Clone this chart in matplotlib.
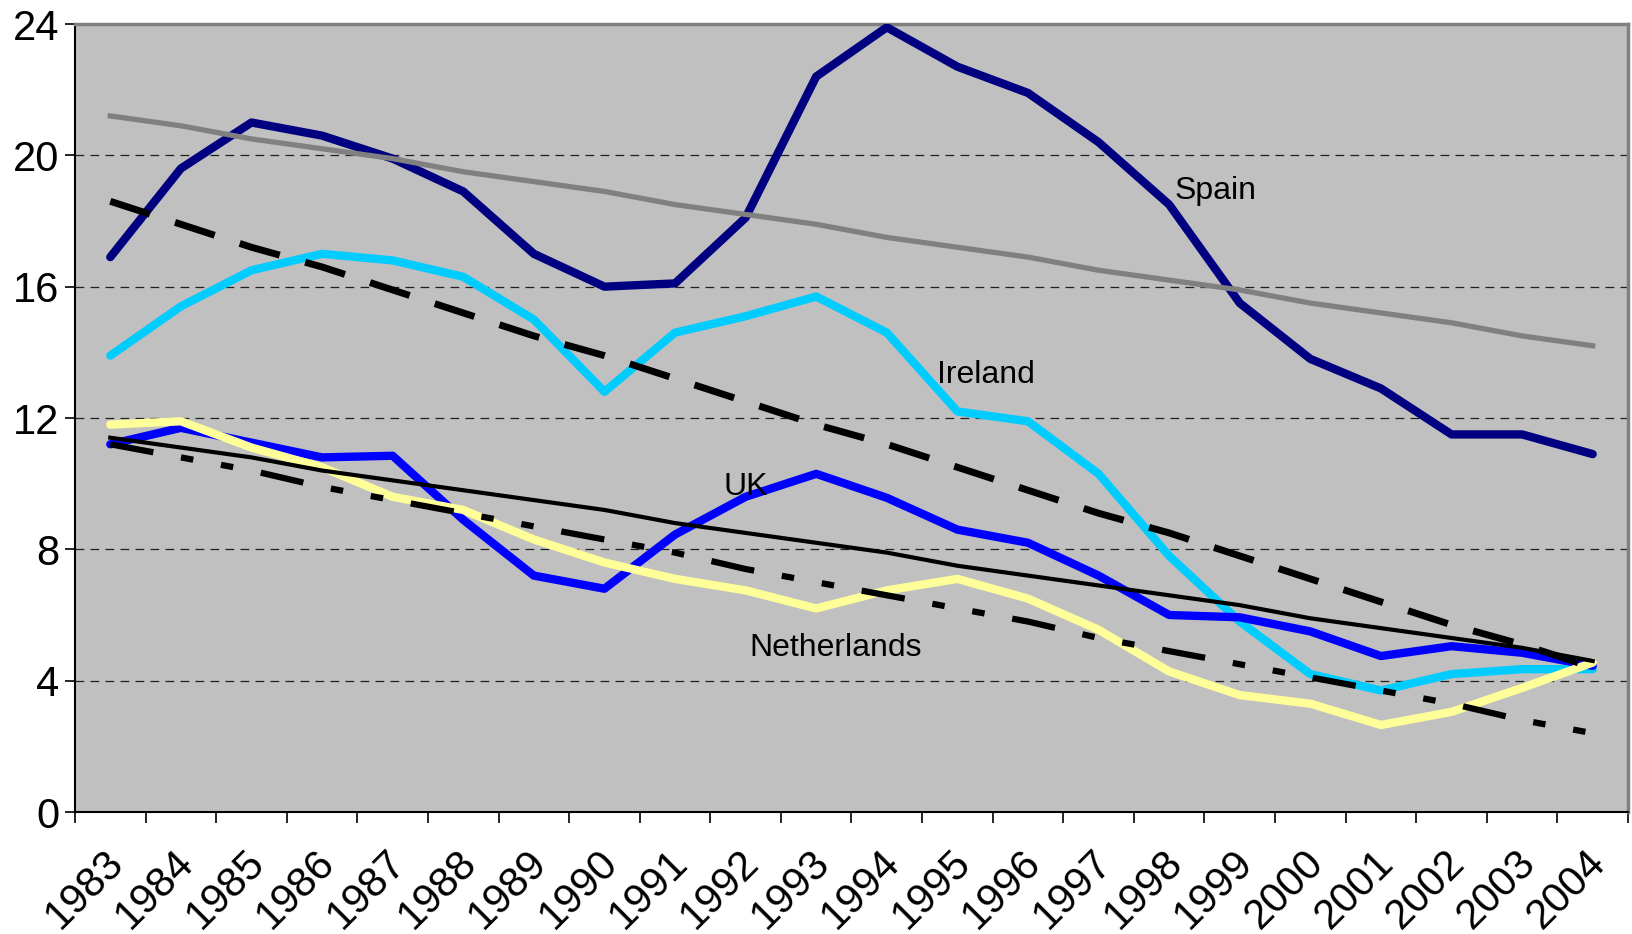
import matplotlib
matplotlib.use('Agg')
import matplotlib.pyplot as plt
import numpy as np

plt.rcParams['font.family'] = ['Liberation Sans', 'DejaVu Sans']

anos = ['1983', '1984', '1985', '1986', '1987', '1988', '1989', '1990', '1991', '1992', '1993',
        '1994', '1995', '1996', '1997', '1998', '1999', '2000', '2001', '2002', '2003', '2004']

espanha = [16.9, 19.6, 21.0, 20.6, 19.9, 18.9, 17.0, 16.0, 16.1, 18.1, 22.4,
           23.9, 22.7, 21.9, 20.4, 18.5, 15.5, 13.8, 12.9, 11.5, 11.5, 10.9]
irlanda = [13.9, 15.4, 16.5, 17.0, 16.8, 16.3, 15.0, 12.8, 14.6, 15.1, 15.7,
           14.6, 12.2, 11.9, 10.3, 7.8, 5.8, 4.2, 3.7, 4.2, 4.35, 4.35]
reino_unido = [11.2, 11.7, 11.25, 10.8, 10.85, 8.9, 7.2, 6.8, 8.45, 9.6, 10.3,
               9.57, 8.6, 8.2, 7.2, 6.0, 5.93, 5.5, 4.75, 5.05, 4.85, 4.45]
holanda = [11.8, 11.9, 11.1, 10.5, 9.6, 9.2, 8.3, 7.6, 7.1, 6.75, 6.2,
           6.75, 7.1, 6.5, 5.55, 4.28, 3.56, 3.3, 2.65, 3.05, 3.78, 4.55]

# linhas de tendencia
tend_espanha = [21.2, 20.9, 20.5, 20.2, 19.9, 19.5, 19.2, 18.9, 18.5, 18.2, 17.9,
                17.5, 17.2, 16.9, 16.5, 16.2, 15.9, 15.5, 15.2, 14.9, 14.5, 14.2]
tend_irlanda = [18.6, 17.9, 17.2, 16.6, 15.9, 15.2, 14.5, 13.9, 13.2, 12.5, 11.8,
                11.2, 10.5, 9.8, 9.1, 8.5, 7.8, 7.1, 6.4, 5.7, 5.1, 4.4]
tend_reino_unido = [11.4, 11.1, 10.8, 10.4, 10.1, 9.8, 9.5, 9.2, 8.8, 8.5, 8.2,
                    7.9, 7.5, 7.2, 6.9, 6.6, 6.3, 5.9, 5.6, 5.3, 5.0, 4.6]
tend_holanda = [11.2, 10.8, 10.4, 9.9, 9.5, 9.1, 8.7, 8.3, 7.9, 7.4, 7.0,
                6.6, 6.2, 5.8, 5.3, 4.9, 4.5, 4.1, 3.7, 3.3, 2.8, 2.4]

W, H = 1633, 934
fig = plt.figure(figsize=(W / 100, H / 100), dpi=100)
ax = fig.add_axes([75 / W, 1 - 812 / H, (1628 - 75) / W, (812 - 24) / H])
ax.set_facecolor('#C0C0C0')

x = np.arange(len(anos))
ax.set_xlim(-0.5, len(anos) - 0.5)
ax.set_ylim(0, 24)

ax.yaxis.grid(True, color='#202020', linewidth=0.9, linestyle=(0, (7, 5)), zorder=1)
ax.set_axisbelow(True)

redondo = dict(solid_capstyle='round', solid_joinstyle='round')
ax.plot(x, espanha, color='#000080', lw=6, zorder=3, **redondo)
ax.plot(x, irlanda, color='#00CCFF', lw=6, zorder=3, **redondo)
ax.plot(x, reino_unido, color='#0000FF', lw=6, zorder=3, **redondo)
ax.plot(x, holanda, color='#FFFF99', lw=6, zorder=3, **redondo)

ax.plot(x, tend_espanha, color='#808080', lw=3.8, zorder=4)
ax.plot(x, tend_irlanda, color='black', lw=5, dashes=(6, 3.8), dash_capstyle='butt', zorder=4)
ax.plot(x, tend_reino_unido, color='black', lw=3, zorder=4)
ax.plot(x, tend_holanda, color='black', lw=4.5, dashes=(7, 4.5, 2, 4.5, 2, 4.5),
        dash_capstyle='butt', zorder=4)

rotulo = dict(fontsize=23, ha='left', va='center', zorder=5)
ax.text(15.08, 18.9, 'Spain', **rotulo)
ax.text(11.71, 13.3, 'Ireland', **rotulo)
ax.text(8.69, 9.9, 'UK', **rotulo)
ax.text(9.06, 5.0, 'Netherlands', **rotulo)

ax.set_yticks([0, 4, 8, 12, 16, 20, 24])
ax.tick_params(axis='y', length=7, width=1.2, pad=4, labelsize=30)

ax.set_xticks(np.arange(-0.5, len(anos), 1))
ax.set_xticklabels([])
ax.tick_params(axis='x', which='major', length=8, width=1.2, direction='out')
ax.set_xticks(x - 0.1, minor=True)
ax.set_xticklabels(anos, minor=True, rotation=45, ha='right', va='top',
                   rotation_mode='anchor', fontsize=30)
ax.tick_params(axis='x', which='minor', length=0, pad=22)

for lado in ['top', 'right']:
    ax.spines[lado].set_color('#808080')
    ax.spines[lado].set_linewidth(2.5)
for lado in ['left', 'bottom']:
    ax.spines[lado].set_color('black')
    ax.spines[lado].set_linewidth(1.5)

fig.savefig('out.png', dpi=100)
